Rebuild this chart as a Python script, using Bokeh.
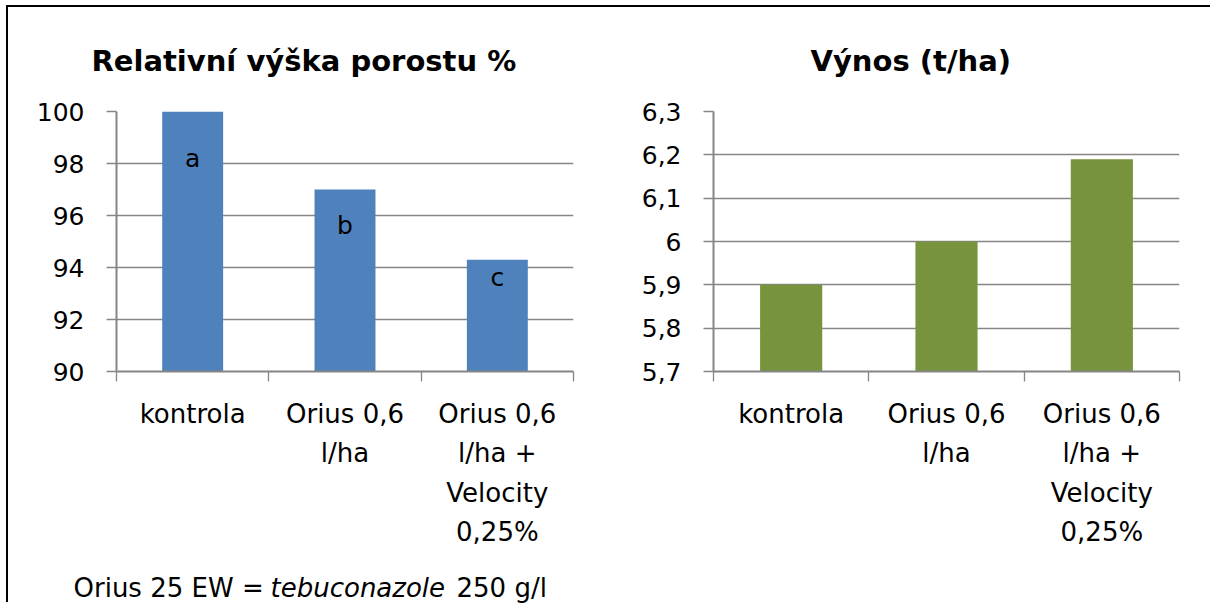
from bokeh.plotting import figure
from bokeh.models import (Range1d, FactorRange, FixedTicker, LinearAxis,
                          CustomJSTickFormatter, Title, ColumnDataSource)
from bokeh.layouts import row, column
from bokeh.embed import file_html
from bokeh.resources import INLINE
from bokeh.core.properties import value

# ---------------- data ----------------
categories = ["kontrola", "Orius 0,6\nl/ha", "Orius 0,6\nl/ha +\nVelocity\n0,25%"]
height_values = [100, 97, 94.3]
height_letters = ["a", "b", "c"]
letter_y = [98.2, 95.6, 93.6]
height_ticks = [90, 92, 94, 96, 98, 100]
yield_values = [5.9, 6.0, 6.19]
yield_ticks = [5.7, 5.8, 5.9, 6.0, 6.1, 6.2, 6.3]
title_height = "Relativní výška porostu  %"
title_yield = "Výnos (t/ha)"
footnote_parts = ["Orius 25 EW = ", "tebuconazole", " 250 g/l"]
footnote_styles = ["normal", "italic", "normal"]

FONT = "DejaVu Sans"
GRAY = "#868686"
H = 560          # height of each chart
FOOT_H = 37      # height of the footnote strip
TOTAL_W = 1204


def make_chart(width, border_left, border_right, values, ticks, color, title, title_offset):
    p = figure(width=width, height=H,
               x_range=FactorRange(factors=categories),
               y_range=Range1d(ticks[0], ticks[-1]),
               x_axis_type=None,
               output_backend="svg", toolbar_location=None, title=None,
               min_border_left=border_left, min_border_right=border_right,
               min_border_top=104, min_border_bottom=H - 104 - 260)
    p.outline_line_color = None
    p.background_fill_color = "white"
    p.border_fill_color = "white"

    # y axis
    ya = p.yaxis[0]
    ya.ticker = FixedTicker(ticks=ticks, minor_ticks=[])
    ya.formatter = CustomJSTickFormatter(
        code="return (Math.round(tick*10)/10).toString().replace('.', ',');")
    ya.axis_line_color = GRAY
    ya.axis_line_width = 2
    ya.major_tick_line_color = GRAY
    ya.major_tick_line_width = 1.3
    ya.major_tick_out = 10
    ya.major_tick_in = 0
    ya.minor_tick_line_color = None
    ya.major_label_standoff = 22
    ya.major_label_text_font = FONT
    ya.major_label_text_font_size = "25px"
    ya.major_label_text_color = "black"
    p.ygrid.grid_line_color = GRAY
    p.ygrid.grid_line_width = 1.3

    # x axis on the factor range's synthetic coordinates:
    # labels at category centres, tick marks at category boundaries
    n = len(categories)
    xa = LinearAxis(
        ticker=FixedTicker(ticks=[i + 0.5 for i in range(n)],
                           minor_ticks=list(range(n + 1))),
        formatter=CustomJSTickFormatter(args=dict(labels=categories),
                                        code="return labels[Math.floor(tick)];"))
    xa.axis_line_color = GRAY
    xa.axis_line_width = 2
    xa.major_tick_line_color = None
    xa.major_tick_out = 0
    xa.major_tick_in = 0
    xa.minor_tick_line_color = GRAY
    xa.minor_tick_line_width = 1.3
    xa.minor_tick_out = 10
    xa.minor_tick_in = 0
    xa.major_label_standoff = 17
    xa.major_label_text_font = FONT
    xa.major_label_text_font_size = "26px"
    xa.major_label_text_color = "black"
    xa.major_label_text_line_height = 1.32
    p.add_layout(xa, "below")

    p.vbar(x=categories, top=values, bottom=ticks[0], width=0.4,
           fill_color=color, line_color=None)

    p.add_layout(Title(text=title, align="left", offset=title_offset,
                       standoff=68, text_font=FONT, text_font_style="bold",
                       text_font_size="29px", text_color="black"), "above")
    return p


left = make_chart(600, 108, 35, height_values, height_ticks, "#4F81BD",
                  title_height, -25)
left.text(x=categories, y=letter_y, text=height_letters,
          text_font=value(FONT), text_font_size="25px", text_align="center",
          text_baseline="middle", text_color="black")

right = make_chart(TOTAL_W - 600, 105, 33, yield_values, yield_ticks, "#77933C",
                   title_yield, 97)

# footnote strip (pixel-like coordinates)
foot = figure(width=TOTAL_W, height=FOOT_H, x_range=Range1d(0, TOTAL_W),
              y_range=Range1d(0, FOOT_H), x_axis_type=None, y_axis_type=None,
              output_backend="svg", toolbar_location=None, title=None,
              min_border=0, min_border_left=0, min_border_right=0,
              min_border_top=0, min_border_bottom=0)
foot.outline_line_color = None
foot_src = ColumnDataSource(dict(x=[65, 262, 448], y=[17, 17, 17],
                                 text=footnote_parts, style=footnote_styles))
foot.text(x="x", y="y", text="text", source=foot_src, text_font=value(FONT),
          text_font_style="style", text_font_size="26px", text_align="left",
          text_baseline="alphabetic", text_color="black")

layout = column(row(left, right), foot, margin=(7, 0, 0, 8),
                styles={"box-shadow": "-2px -2px 0 0 #000"})

open("out.html", "w").write(file_html(layout, INLINE))
